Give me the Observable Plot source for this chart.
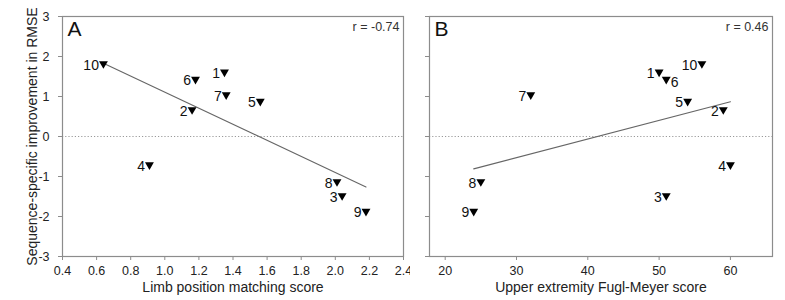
<!DOCTYPE html>
<html><head><meta charset="utf-8">
<script src="https://cdn.jsdelivr.net/npm/d3@7"></script>
<script src="https://cdn.jsdelivr.net/npm/@observablehq/plot@0.6"></script>
<style>
body{margin:0;background:#fff;}
#wrap{display:flex;width:785px;height:300px;overflow:hidden;}
#wrap svg{font-family:"Liberation Sans",Arial,Helvetica,sans-serif;}
</style></head><body><div id="wrap"></div>
<script>
const subjects = [1, 2, 3, 4, 5, 6, 7, 8, 9, 10];
const limbScore = [1.35, 1.16, 2.04, 0.91, 1.56, 1.18, 1.36, 2.01, 2.18, 0.64];
const fuglMeyer = [50, 59, 51, 60, 54, 51, 32, 25, 24, 56];
const rmseImprovement = [1.61, 0.67, -1.48, -0.71, 0.88, 1.43, 1.04, -1.13, -1.87, 1.82];
const labelSideB = ["left","left","left","left","left","right","left","left","left","left"];
const yTicks = [-3, -2, -1, 0, 1, 2, 3];
const xTicksA = [0.4, 0.6, 0.8, 1.0, 1.2, 1.4, 1.6, 1.8, 2.0, 2.2, 2.4];
const xTicksB = [20, 30, 40, 50, 60];
const titles = {
  y: "Sequence-specific improvement in RMSE",
  xA: "Limb position matching score",
  xB: "Upper extremity Fugl-Meyer score"
};
const rLabels = ["r = -0.74", "r = 0.46"];
const panelLetters = ["A", "B"];

const data = subjects.map((id, i) => ({
  id, limb: limbScore[i], fm: fuglMeyer[i], y: rmseImprovement[i], sideB: labelSideB[i]
}));

const FRAME = "#8c8c8c";
const font = "'Liberation Sans', Arial, Helvetica, sans-serif";

function panel({xKey, xDomain, xTicks, xFormat, xTitle, letter, rText, width, ml, mr, yLabels, leftRight}) {
  const marks = [
    Plot.ruleY([0], {stroke: "#9a9a9a", strokeDasharray: "1.2,2", strokeWidth: 1}),
    Plot.axisY({ticks: yTicks, tickSize: 4, tickPadding: 9, stroke: FRAME, fill: "#222", fontSize: 12.5,
      tickFormat: yLabels ? (d => d) : () => "", label: null}),
    Plot.axisX({ticks: xTicks, tickSize: 4, tickPadding: 6, stroke: FRAME, fill: "#222", fontSize: 12.5,
      tickFormat: xFormat, label: null}),
    Plot.text([xTitle], {frameAnchor: "bottom", dy: 31, lineAnchor: "middle", fontSize: 14, fill: "#222"}),
    Plot.frame({stroke: FRAME, strokeWidth: 1.2}),
    Plot.linearRegressionY(data, {x: xKey, y: "y", stroke: "#666", strokeWidth: 1.1, ci: 0}),
    Plot.dot(data, {x: xKey, y: "y", symbol: "triangle", r: 3.3, fill: "#000", stroke: "none", rotate: 180}),
    Plot.text(leftRight ? data.filter(d => d.sideB === "left") : data,
      {x: xKey, y: "y", text: "id", textAnchor: "end", dx: -4.5, dy: 1.5, fontSize: 14, fill: "#111"}),
    Plot.text(leftRight ? data.filter(d => d.sideB === "right") : [],
      {x: xKey, y: "y", text: "id", textAnchor: "start", dx: 4.5, dy: 3, fontSize: 14, fill: "#111"}),
    Plot.text([letter], {frameAnchor: "top-left", dx: 5, dy: 5, lineAnchor: "top", fontSize: 21, fill: "#111"}),
    Plot.text([rText], {frameAnchor: "top-right", dx: -4, dy: 6, lineAnchor: "top", fontSize: 12.5, fill: "#333"})
  ];
  if (yLabels) {
    marks.push(Plot.text([titles.y], {frameAnchor: "left", rotate: -90, dx: -30, lineAnchor: "middle",
      textAnchor: "middle", fontSize: 14, fill: "#222"}));
  }
  return Plot.plot({
    width, height: 300, marginLeft: ml, marginRight: mr, marginTop: 16, marginBottom: 44,
    style: {fontFamily: font, background: "#fff", color: "#222", overflow: "visible"},
    x: {domain: xDomain}, y: {domain: [-3, 3]},
    marks
  });
}

const wrap = document.getElementById("wrap");
wrap.appendChild(panel({xKey: "limb", xDomain: [0.4, 2.4], xTicks: xTicksA, xFormat: d3.format(".1f"),
  xTitle: titles.xA, letter: panelLetters[0], rText: rLabels[0], width: 410, ml: 62, mr: 7, yLabels: true, leftRight: false}));
wrap.appendChild(panel({xKey: "fm", xDomain: [17.8, 65.9], xTicks: xTicksB, xFormat: d3.format("d"),
  xTitle: titles.xB, letter: panelLetters[1], rText: rLabels[1], width: 375, ml: 19, mr: 13, yLabels: false, leftRight: true}));
</script></body></html>
